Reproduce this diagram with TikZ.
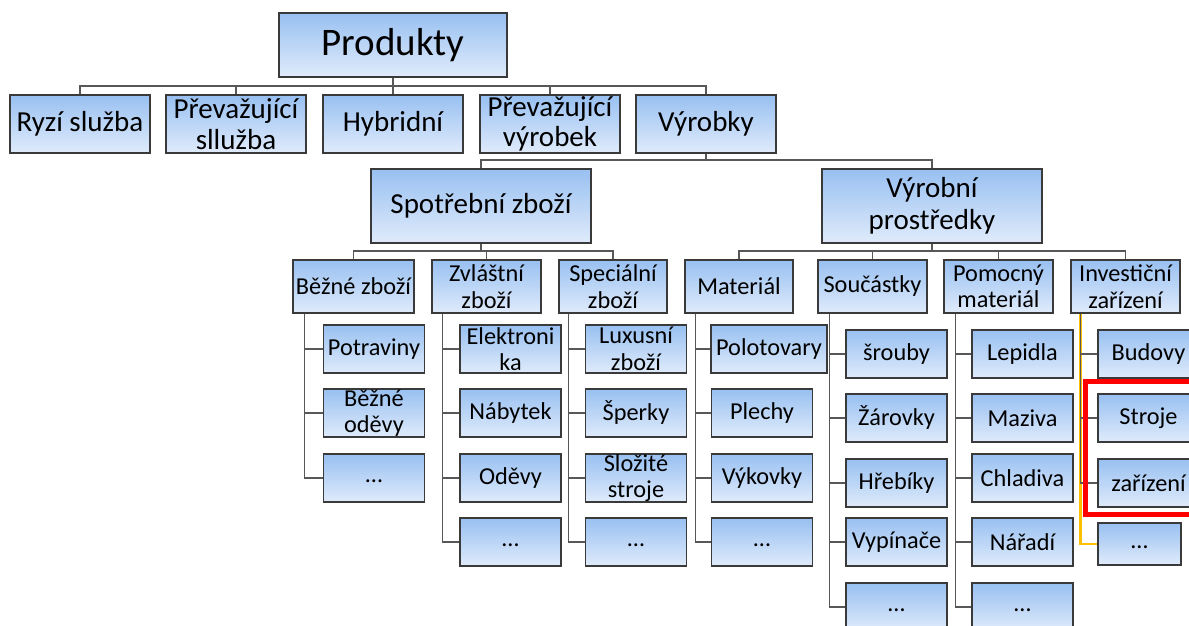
\documentclass[tikz,border=0pt]{standalone}
\usepackage{fontspec}
\setmainfont{Carlito}
\usetikzlibrary{calc}
\definecolor{boxtop}{RGB}{152,192,241}
\definecolor{boxbot}{RGB}{224,235,251}
\definecolor{boxline}{RGB}{58,58,58}
\definecolor{linkc}{RGB}{88,88,88}
\definecolor{hlred}{RGB}{255,0,0}
\definecolor{hlyel}{RGB}{255,192,0}
\newcommand{\moredots}{\smash{\raisebox{-4.5pt}{…}}}
\tikzset{
  box/.style={draw=boxline, line width=1.3pt, top color=boxtop, bottom color=boxbot,
    inner sep=0pt, align=center},
  lvA/.style={box, font=\fontsize{39}{41}\selectfont},
  lvB/.style={box, font=\fontsize{29}{30.5}\selectfont, minimum width=140pt, minimum height=58pt},
  lvC/.style={box, font=\fontsize{29}{32}\selectfont, minimum width=220pt, minimum height=74pt},
  lvD/.style={box, font=\fontsize{24.3}{26.5}\selectfont, minimum height=53pt},
  leaf/.style={box, font=\fontsize{24.3}{26.5}\selectfont, minimum height=48pt, minimum width=101pt},
  link/.style={draw=linkc, line width=1.3pt},
}
\begin{document}
\begin{tikzpicture}[x=1pt,y=-1pt]
\useasboundingbox (0,0) rectangle (1189,625);
\clip (0,0) rectangle (1189,625);

% root and first level
\node[lvA, minimum width=228pt, minimum height=64pt] (prod) at (393,45) {Produkty};
\node[lvB] (ryzi) at (80,124) {Ryzí služba};
\node[lvB] (psl) at (236,124) {Převažující\\sllužba};
\node[lvB] (hyb) at (393,124) {Hybridní};
\node[lvB] (pvy) at (550,124) {Převažující\\výrobek};
\node[lvB] (vyr) at (706,124) {Výrobky};

% second level
\node[lvC] (spot) at (481,206) {Spotřební zboží};
\node[lvC] (vp) at (932,206) {Výrobní\\prostředky};

% third level
\node[lvD, minimum width=121pt] (bez) at (353.5,286.5) {Běžné zboží};
\node[lvD, minimum width=109pt] (zvl) at (486.5,286.5) {Zvláštní\\zboží};
\node[lvD, minimum width=108pt] (spe) at (613,286.5) {Speciální\\zboží};
\node[lvD, minimum width=108pt] (mat) at (739,286.5) {Materiál};
\node[lvD, minimum width=109pt] (sou) at (872.5,286.5) {Součástky};
\node[lvD, minimum width=109pt] (pom) at (998.5,286.5) {Pomocný\\materiál};
\node[lvD, minimum width=109pt] (inv) at (1125.5,286.5) {Investiční\\zařízení};

% leaves: consumer goods
\node[leaf] (pot) at (374,349) {Potraviny};
\node[leaf] (beo) at (374,413) {Běžné\\oděvy};
\node[leaf] (bz3) at (374,478) {\moredots};
\node[leaf] (ele) at (510.5,349) {Elektroni\\ka};
\node[leaf] (nab) at (510.5,413) {Nábytek};
\node[leaf] (ode) at (510.5,478) {Oděvy};
\node[leaf] (zv4) at (510.5,542) {\moredots};
\node[leaf] (lux) at (636,349) {Luxusní\\zboží};
\node[leaf] (spr) at (636,413) {Šperky};
\node[leaf] (slo) at (636,478) {Složité\\stroje};
\node[leaf] (sp4) at (636,542) {\moredots};

% leaves: means of production
\node[leaf, minimum width=116pt] (pol) at (769,349) {Polotovary};
\node[leaf] (ple) at (762,413) {Plechy};
\node[leaf] (vyk) at (762,478) {Výkovky};
\node[leaf] (ma4) at (762,542) {\moredots};
\node[leaf] (sro) at (896.5,354) {šrouby};
\node[leaf] (zar) at (896.5,418) {Žárovky};
\node[leaf] (hre) at (896.5,483) {Hřebíky};
\node[leaf] (vyp) at (896.5,542) {Vypínače};
\node[leaf] (so5) at (896.5,607) {\moredots};
\node[leaf] (lep) at (1022.5,354) {Lepidla};
\node[leaf] (maz) at (1022.5,418) {Maziva};
\node[leaf] (chl) at (1022.5,478) {Chladiva};
\node[leaf] (nar) at (1022.5,542) {Nářadí};
\node[leaf] (po5) at (1022.5,607) {\moredots};
\node[leaf] (bud) at (1148.5,354) {Budovy};
\node[leaf] (str) at (1148.5,418) {Stroje};
\node[leaf] (zaf) at (1148.5,483) {zařízení};
\node[leaf, minimum width=83pt, minimum height=42pt] (in4) at (1139.5,544) {\moredots};

% bus connectors
\coordinate (b1) at (393,86);
\draw[link] (prod.south) -- (b1);
\foreach \n in {ryzi,psl,hyb,pvy,vyr} \draw[link] (b1) -| (\n.north);
\coordinate (b2) at (706,160);
\draw[link] (vyr.south) -- (b2);
\foreach \n in {spot,vp} \draw[link] (b2) -| (\n.north);
\coordinate (b3) at (481,251);
\draw[link] (spot.south) -- (b3);
\foreach \n in {bez,zvl,spe} \draw[link] (b3) -| (\n.north);
\coordinate (b4) at (932,251);
\draw[link] (vp.south) -- (b4);
\foreach \n in {mat,sou,pom,inv} \draw[link] (b4) -| (\n.north);

% side-hanging leaf connectors
\foreach \n in {pot,beo,bz3} \draw[link] ([xshift=12pt]bez.south west) |- (\n.west);
\foreach \n in {ele,nab,ode,zv4} \draw[link] ([xshift=11pt]zvl.south west) |- (\n.west);
\foreach \n in {lux,spr,slo,sp4} \draw[link] ([xshift=10pt]spe.south west) |- (\n.west);
\foreach \n in {pol,ple,vyk,ma4} \draw[link] ([xshift=11pt]mat.south west) |- (\n.west);
\foreach \n in {sro,zar,hre,vyp,so5} \draw[link] ([xshift=12pt]sou.south west) |- (\n.west);
\foreach \n in {lep,maz,chl,nar,po5} \draw[link] ([xshift=12pt]pom.south west) |- (\n.west);
\draw[hlyel, line width=2.4pt] ([xshift=10pt]inv.south west) |- (in4.west);
\foreach \n in {bud,str,zaf} \draw[link] ([xshift=10pt]inv.south west) |- (\n.west);

% highlight frame
\draw[hlred, line width=5pt] (1085.5,381.5) rectangle (1215,514.5);
\end{tikzpicture}
\end{document}
